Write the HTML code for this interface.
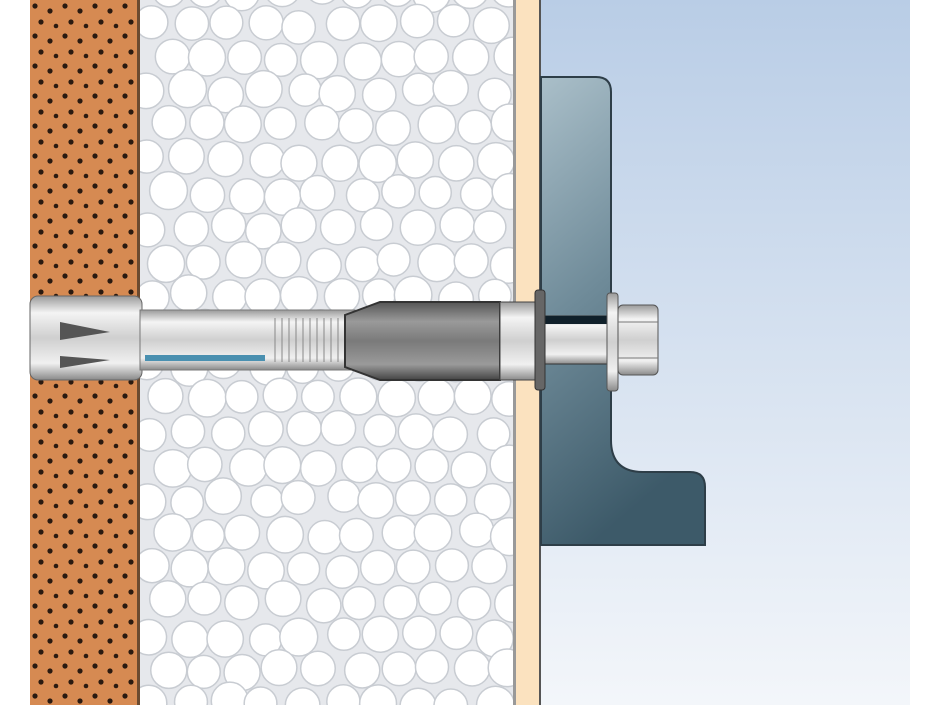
<!DOCTYPE html>
<html><head><style>html,body{margin:0;padding:0;background:#fff}svg{display:block}</style></head>
<body>
<svg id="s" width="940" height="705" viewBox="0 0 940 705" xmlns="http://www.w3.org/2000/svg">
<defs>
<linearGradient id="sky" x1="0" y1="0" x2="0" y2="1"><stop offset="0" stop-color="#b9cde6"/><stop offset="1" stop-color="#f3f6fa"/></linearGradient>
<linearGradient id="br" x1="0" y1="0" x2="0.3" y2="1"><stop offset="0" stop-color="#aabfc9"/><stop offset="0.5" stop-color="#6f8b99"/><stop offset="1" stop-color="#3d5a69"/></linearGradient>
<linearGradient id="met" x1="0" y1="0" x2="0" y2="1"><stop offset="0" stop-color="#9a9a9a"/><stop offset="0.2" stop-color="#f4f4f4"/><stop offset="0.5" stop-color="#cfcfcf"/><stop offset="0.8" stop-color="#f0f0f0"/><stop offset="1" stop-color="#8a8a8a"/></linearGradient>
<linearGradient id="dk" x1="0" y1="0" x2="0" y2="1"><stop offset="0" stop-color="#555"/><stop offset="0.25" stop-color="#9a9a9a"/><stop offset="0.5" stop-color="#7a7a7a"/><stop offset="0.8" stop-color="#9a9a9a"/><stop offset="1" stop-color="#444"/></linearGradient>
<pattern id="dots" width="30" height="30" patternUnits="userSpaceOnUse">
<circle cx="5" cy="6" r="2.6" fill="#2a1a10"/><circle cx="20" cy="11" r="2.6" fill="#2a1a10"/><circle cx="11" cy="22" r="2.6" fill="#2a1a10"/><circle cx="26" cy="26" r="2.3" fill="#2a1a10"/></pattern>
</defs>
<rect x="30" y="0" width="110" height="705" fill="#d68a52"/>
<rect x="30" y="0" width="110" height="705" fill="url(#dots)"/>
<rect x="137" y="0" width="3" height="705" fill="#6a4a30"/>
<rect x="140" y="0" width="375" height="705" fill="#e6e8ec"/>
<g id="foam"></g>
<rect x="513" y="0" width="3" height="705" fill="#999"/>
<rect x="516" y="0" width="24" height="705" fill="#fbe2bf"/>
<rect x="539" y="0" width="2" height="705" fill="#555"/>
<rect x="541" y="0" width="369" height="705" fill="url(#sky)"/>
<path d="M541 77 H596 Q611 77 611 92 V440 Q611 472 643 472 H690 Q705 472 705 487 V545 H541 Z" fill="url(#br)" stroke="#2e3e48" stroke-width="2"/>
<rect x="30" y="296" width="112" height="84" rx="8" fill="url(#met)" stroke="#666"/>
<path d="M60 322 L110 332 L60 340 Z M60 356 L110 360 L60 368 Z" fill="#555"/>
<rect x="140" y="310" width="215" height="60" fill="url(#met)" stroke="#777"/>
<rect x="145" y="355" width="120" height="6" fill="#4a90b0"/>
<g stroke="#888" stroke-width="1">
<line x1="275" y1="318" x2="275" y2="362"/><line x1="282" y1="318" x2="282" y2="362"/><line x1="289" y1="318" x2="289" y2="362"/><line x1="296" y1="318" x2="296" y2="362"/><line x1="303" y1="318" x2="303" y2="362"/><line x1="310" y1="318" x2="310" y2="362"/><line x1="317" y1="318" x2="317" y2="362"/><line x1="324" y1="318" x2="324" y2="362"/><line x1="331" y1="318" x2="331" y2="362"/><line x1="338" y1="318" x2="338" y2="362"/></g>
<path d="M345 315 L380 302 H500 V380 H380 L345 367 Z" fill="url(#dk)" stroke="#333" stroke-width="2"/>
<rect x="500" y="302" width="38" height="78" fill="url(#met)" stroke="#444"/>
<rect x="545" y="316" width="66" height="48" fill="url(#met)" stroke="#333"/>
<rect x="545" y="316" width="66" height="8" fill="#10202a"/>
<rect x="535" y="290" width="10" height="100" rx="3" fill="#666" stroke="#333"/>
<rect x="607" y="293" width="11" height="98" rx="3" fill="url(#met)" stroke="#555"/>
<rect x="618" y="305" width="40" height="70" rx="5" fill="url(#met)" stroke="#555"/>
<line x1="618" y1="322" x2="658" y2="322" stroke="#777"/><line x1="618" y1="358" x2="658" y2="358" stroke="#777"/>
</svg>
<script>
var g=document.getElementById('foam'),ns='http://www.w3.org/2000/svg',seed=7;
function r(){seed=(seed*9301+49297)%233280;return seed/233280;}
for(var y=-10;y<720;y+=34){for(var x=150;x<525;x+=38){var c=document.createElementNS(ns,'circle');
c.setAttribute('cx',x+(Math.floor(y/34)%2?19:0)+r()*8-4);c.setAttribute('cy',y+r()*8-4);c.setAttribute('r',16+r()*3);
c.setAttribute('fill','#fff');c.setAttribute('stroke','#c8ccd2');c.setAttribute('stroke-width','1.5');g.appendChild(c);}}
var cp=document.createElementNS(ns,'clipPath');cp.id='fc';var rc=document.createElementNS(ns,'rect');rc.setAttribute('x',140);rc.setAttribute('y',0);rc.setAttribute('width',373);rc.setAttribute('height',705);cp.appendChild(rc);document.querySelector('defs').appendChild(cp);g.setAttribute('clip-path','url(#fc)');
</script>
</body></html>
